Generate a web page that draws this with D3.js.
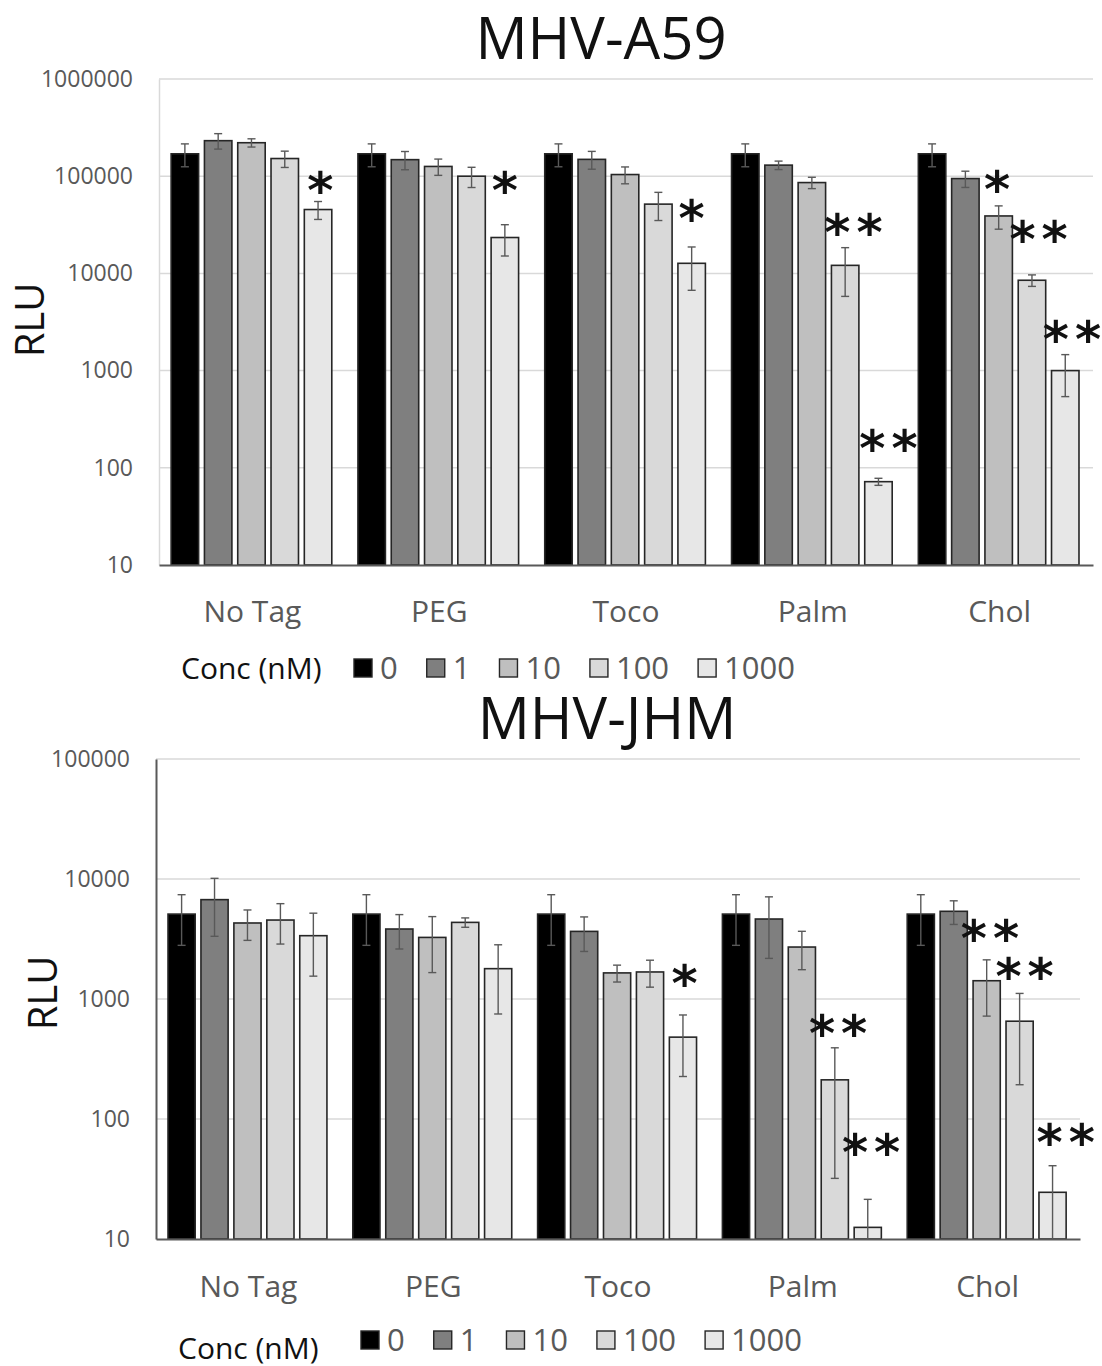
<!DOCTYPE html>
<html>
<head>
<meta charset="utf-8">
<script src="https://cdn.jsdelivr.net/npm/d3@7"></script>
<style>
  body { margin: 0; background: #fff; }
  svg { display: block; font-family: "Open Sans", sans-serif; }
</style>
</head>
<body>
<svg id="chart" width="1102" height="1366"></svg>
<script>
const categories = ['No Tag', 'PEG', 'Toco', 'Palm', 'Chol'];
const concs = ['0', '1', '10', '100', '1000'];
const concColors = ['#000000', '#7f7f7f', '#bfbfbf', '#d9d9d9', '#e7e7e7'];

// MHV-A59, rows = categories, columns = concentrations
const a59Mean = [
  [170000, 232000, 221000, 152000, 45400],
  [170000, 148000, 126000, 100000, 23400],
  [170000, 149000, 104000, 51600, 12700],
  [170000, 130000, 86000, 12100, 72],
  [170000, 94600, 39000, 8500, 1000]
];
const a59Err = [
  [45000, 42000, 21500, 29000, 9500],
  [45000, 31500, 24000, 23500, 8300],
  [45000, 31000, 20500, 16600, 6000],
  [45000, 13000, 11500, 6300, 6],
  [45000, 18000, 10500, 1150, 460]
];
const a59Ticks = [10, 100, 1000, 10000, 100000, 1000000];
// [category, bar slot, value level, label]
const a59Stars = [
  ['No Tag', 4.07, 85000, '*'],
  ['PEG', 4.0, 85000, '*'],
  ['Toco', 4.0, 44000, '*'],
  ['Palm', 3.25, 31800, '**'],
  ['Palm', 4.3, 189, '**'],
  ['Chol', 1.95, 87000, '*'],
  ['Chol', 3.2, 26500, '**'],
  ['Chol', 4.2, 2470, '**']
];

// MHV-JHM
const jhmMean = [
  [5100, 6730, 4300, 4550, 3370],
  [5100, 3830, 3260, 4350, 1790],
  [5100, 3660, 1650, 1680, 481],
  [5100, 4640, 2710, 212, 12.5],
  [5100, 5380, 1420, 653, 24.5]
];
const jhmErr = [
  [2300, 3400, 1220, 1680, 1820],
  [2300, 1220, 1600, 390, 1040],
  [2300, 1170, 265, 425, 255],
  [2300, 2460, 955, 180, 8.9],
  [2300, 1200, 700, 460, 16.3]
];
const jhmTicks = [10, 100, 1000, 10000, 100000];
const jhmStars = [
  ['Toco', 4.05, 1560, '*'],
  ['Palm', 3.1, 590, '**'],
  ['Palm', 4.1, 60.7, '**'],
  ['Chol', 2.1, 3660, '**'],
  ['Chol', 3.15, 1780, '**'],
  ['Chol', 4.4, 73.6, '**']
];

const svg = d3.select('#chart');
const starSpacing = 6;

function drawChart(cfg) {
  const g = svg.append('g');
  const x0 = d3.scaleBand().domain(categories).range([cfg.left, cfg.right]);
  const bw = x0.bandwidth();
  const x1 = d3.scaleBand().domain(concs).range([bw * 0.065, bw * 0.925]).paddingInner(0.175);
  const y = d3.scaleLog().domain([10, cfg.max]).range([cfg.bottom, cfg.top]).clamp(true);

  // gridlines
  g.append('g').selectAll('line')
    .data(cfg.ticks.slice(1))
    .join('line')
      .attr('x1', cfg.left).attr('x2', cfg.right)
      .attr('y1', d => y(d)).attr('y2', d => y(d))
      .attr('stroke', '#d9d9d9').attr('stroke-width', 1.5);

  // y axis
  const yAxis = g.append('g')
    .attr('transform', `translate(${cfg.left},0)`)
    .call(d3.axisLeft(y).tickValues(cfg.ticks).tickFormat(d3.format('d')).tickSize(0).tickPadding(26));
  yAxis.select('.domain').attr('stroke', cfg.axisColor).attr('stroke-width', cfg.axisWidth);
  yAxis.selectAll('text').attr('font-size', 23).attr('fill', '#595959').attr('font-family', '"Open Sans", sans-serif');

  // bars
  const groups = g.append('g').selectAll('g')
    .data(cfg.mean.map((row, i) => ({ cat: categories[i], row: row, err: cfg.err[i] })))
    .join('g')
      .attr('transform', d => `translate(${x0(d.cat)},0)`);

  groups.selectAll('rect')
    .data(d => d.row.map((v, j) => ({ conc: concs[j], v: v, e: d.err[j], j: j })))
    .join('rect')
      .attr('x', d => x1(d.conc))
      .attr('y', d => y(d.v))
      .attr('width', x1.bandwidth())
      .attr('height', d => cfg.bottom - y(d.v))
      .attr('fill', d => concColors[d.j])
      .attr('stroke', '#262626')
      .attr('stroke-width', 1.6);

  // error bars
  const eb = groups.selectAll('g.err')
    .data(d => d.row.map((v, j) => ({ conc: concs[j], v: v, e: d.err[j] })))
    .join('g')
      .attr('class', 'err')
      .attr('transform', d => `translate(${x1(d.conc) + x1.bandwidth() / 2},0)`)
      .attr('stroke', '#595959')
      .attr('stroke-width', 1.4);
  eb.append('line')
    .attr('y1', d => y(d.v + d.e))
    .attr('y2', d => y(Math.max(d.v - d.e, 1)));
  eb.append('line')
    .attr('x1', -4).attr('x2', 4)
    .attr('y1', d => y(d.v + d.e)).attr('y2', d => y(d.v + d.e));
  eb.filter(d => d.v - d.e > 10).append('line')
    .attr('x1', -4).attr('x2', 4)
    .attr('y1', d => y(d.v - d.e)).attr('y2', d => y(d.v - d.e));

  // baseline + category labels
  const xAxis = g.append('g')
    .attr('transform', `translate(0,${cfg.bottom})`)
    .call(d3.axisBottom(x0).tickSize(0).tickPadding(cfg.catPad));
  xAxis.select('.domain').attr('stroke', '#595959').attr('stroke-width', 2);
  xAxis.selectAll('text').attr('font-size', 30).attr('fill', '#595959').attr('font-family', '"Open Sans", sans-serif');

  // significance marks
  g.append('g').selectAll('text')
    .data(cfg.stars)
    .join('text')
      .attr('x', d => x0(d[0]) + x1(concs[0]) + d[1] * x1.step() + x1.bandwidth() / 2 + starSpacing / 2)
      .attr('y', d => y(d[2]) + 25)
      .attr('text-anchor', 'middle')
      .attr('font-family', '"DejaVu Sans", sans-serif')
      .attr('font-weight', 'bold')
      .attr('font-size', 50)
      .attr('letter-spacing', starSpacing)
      .attr('fill', '#111')
      .text(d => d[3]);

  // title
  svg.append('text')
    .attr('x', cfg.titleX).attr('y', cfg.titleY)
    .attr('text-anchor', 'middle')
    .attr('font-size', 58)
    .attr('fill', '#111')
    .text(cfg.title);

  // y label
  svg.append('text')
    .attr('transform', `translate(${cfg.rluX},${cfg.rluY}) rotate(-90)`)
    .attr('dy', '0.35em')
    .attr('text-anchor', 'middle')
    .attr('font-size', 40)
    .attr('fill', '#111')
    .text('RLU');

  // legend
  const leg = svg.append('g');
  leg.append('text')
    .attr('x', cfg.concX).attr('y', cfg.legendY + cfg.concDy)
    .attr('dy', '0.35em')
    .attr('font-size', 30)
    .attr('fill', '#111')
    .text('Conc (nM)');
  let lx = cfg.swatchX;
  concs.forEach((c, j) => {
    leg.append('rect')
      .attr('x', lx).attr('y', cfg.legendY - 9)
      .attr('width', 18).attr('height', 18)
      .attr('fill', concColors[j])
      .attr('stroke', '#262626').attr('stroke-width', 1.4);
    const t = leg.append('text')
      .attr('x', lx + 26).attr('y', cfg.legendY)
      .attr('dy', '0.35em')
      .attr('font-size', 31)
      .attr('fill', '#595959')
      .text(c);
    lx += 26 + t.node().getComputedTextLength() + 29;
  });
}

drawChart({
  title: 'MHV-A59', titleX: 601, titleY: 59,
  left: 159, right: 1093, top: 79, bottom: 565, max: 1e6,
  ticks: a59Ticks, mean: a59Mean, err: a59Err, stars: a59Stars,
  axisColor: '#d9d9d9', axisWidth: 1.5, catPad: 36,
  rluX: 30, rluY: 320,
  legendY: 668, concX: 181, concDy: 0, swatchX: 354
});

drawChart({
  title: 'MHV-JHM', titleX: 607, titleY: 739,
  left: 156, right: 1080, top: 759, bottom: 1239, max: 1e5,
  ticks: jhmTicks, mean: jhmMean, err: jhmErr, stars: jhmStars,
  axisColor: '#595959', axisWidth: 2, catPad: 37,
  rluX: 43, rluY: 993,
  legendY: 1340, concX: 178, concDy: 8, swatchX: 361
});
</script>
</body>
</html>
